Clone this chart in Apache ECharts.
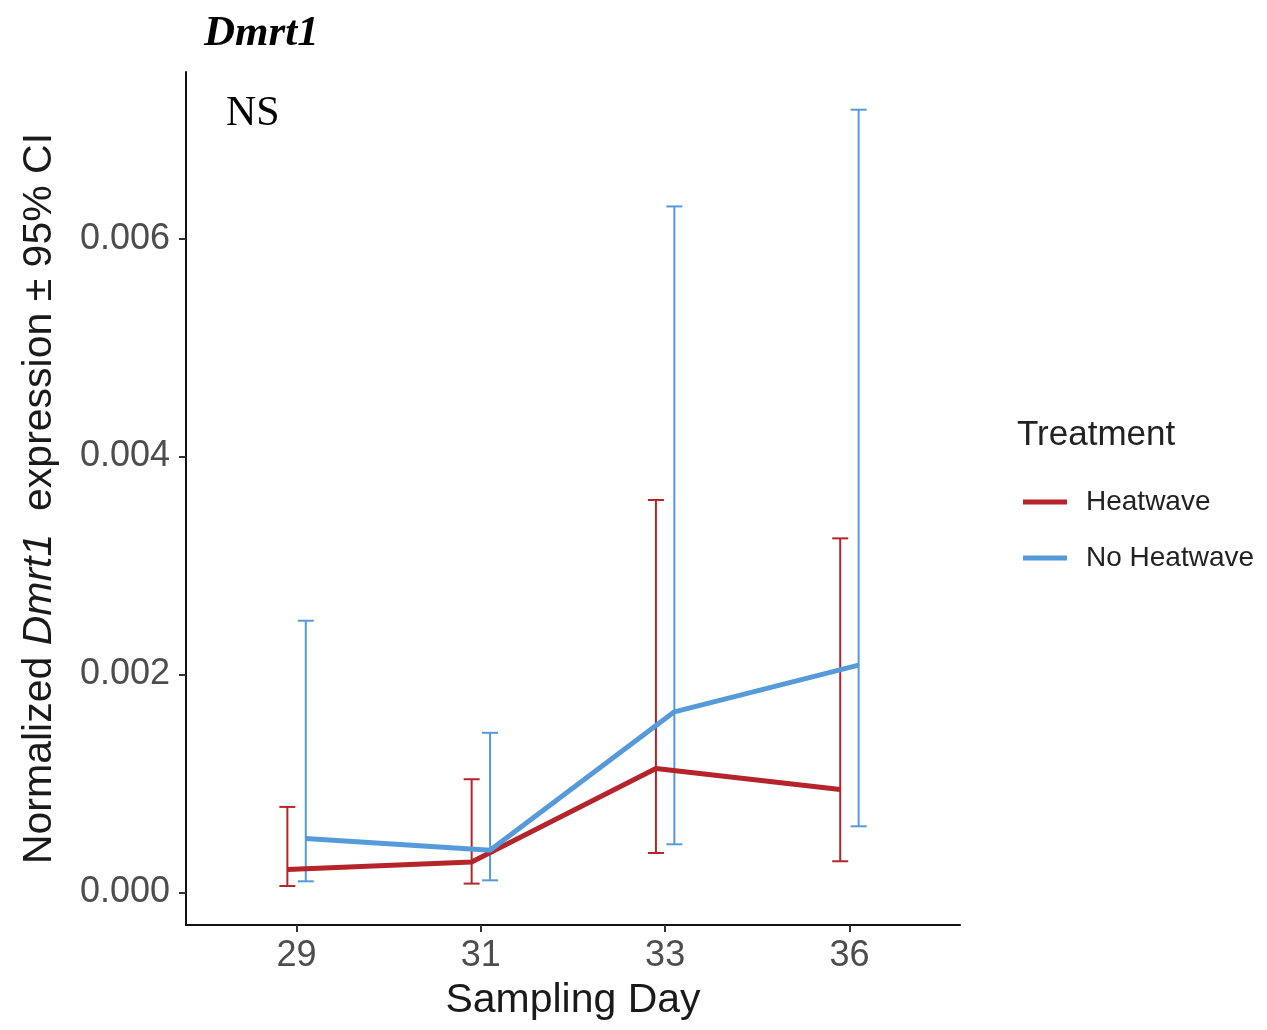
<!DOCTYPE html>
<html>
<head>
<meta charset="utf-8">
<script src="https://cdn.jsdelivr.net/npm/echarts@6/dist/echarts.min.js"></script>
<style>
html,body{margin:0;padding:0;background:#fff;}
#chart{width:1267px;height:1030px;}
</style>
</head>
<body>
<div id="chart"></div>
<script>
// ---- data ----
var days = ['29', '31', '33', '36'];
var yTicks = [0, 0.002, 0.004, 0.006];
var heatMean = [0.000209, 0.000279, 0.001136, 0.000943];
var heatLow  = [0.000058, 0.000080, 0.000361, 0.000285];
var heatHigh = [0.000784, 0.001038, 0.003601, 0.003249];
var noMean = [0.000493, 0.000386, 0.001657, 0.002085];
var noLow  = [0.000101, 0.000110, 0.000441, 0.000606];
var noHigh = [0.002493, 0.001464, 0.006296, 0.007184];
var dodge = 0.05;
var RED = '#B5242B';
var BLUE = '#559AD9';

function pts(means, off) {
  return means.map(function (v, i) { return [i + off, v]; });
}
function bars(lows, highs, off) {
  return lows.map(function (v, i) { return [i + off, v, highs[i]]; });
}
function errRender(color) {
  return function (params, api) {
    var x = api.value(0);
    var lo = api.coord([x, api.value(1)]);
    var hi = api.coord([x, api.value(2)]);
    var hw = 8;
    var style = { stroke: color, lineWidth: 2, fill: null };
    return {
      type: 'group',
      children: [
        { type: 'line', shape: { x1: lo[0], y1: lo[1], x2: hi[0], y2: hi[1] }, style: style },
        { type: 'line', shape: { x1: lo[0] - hw, y1: lo[1], x2: lo[0] + hw, y2: lo[1] }, style: style },
        { type: 'line', shape: { x1: hi[0] - hw, y1: hi[1], x2: hi[0] + hw, y2: hi[1] }, style: style }
      ]
    };
  };
}

var chart = echarts.init(document.getElementById('chart'));
var sans = 'Liberation Sans, Arial, sans-serif';
var serif = 'Liberation Serif, Times New Roman, serif';
chart.setOption({
  animation: false,
  backgroundColor: '#fff',
  grid: { left: 186, right: 307, top: 72, bottom: 105, containLabel: false },
  title: [
    { text: 'Dmrt1', left: 199, top: 7, textStyle: { fontFamily: serif, fontStyle: 'italic', fontWeight: 'bold', fontSize: 43, color: '#000' } },
    { text: 'NS', left: 221, top: 88, textStyle: { fontFamily: serif, fontWeight: 'normal', fontSize: 42, color: '#000' } },
    { text: 'Treatment', left: 1012, top: 413, textStyle: { fontFamily: sans, fontWeight: 'normal', fontSize: 35, color: '#222' } }
  ],
  legend: {
    data: ['Heatwave', 'No Heatwave'],
    orient: 'vertical',
    left: 1018,
    top: 483,
    icon: 'rect',
    itemWidth: 44,
    itemHeight: 5,
    itemGap: 28,
    textStyle: { fontFamily: sans, fontSize: 28, color: '#222', padding: [0, 0, 0, 14] }
  },
  xAxis: {
    type: 'value',
    min: -0.6,
    max: 3.6,
    name: 'Sampling Day',
    nameLocation: 'middle',
    nameGap: 55,
    nameTextStyle: { fontFamily: sans, fontSize: 41, color: '#1a1a1a' },
    splitLine: { show: false },
    axisLine: { show: true, onZero: false, lineStyle: { color: '#111', width: 2 } },
    axisTick: { show: true, customValues: [0, 1, 2, 3], length: 7, lineStyle: { color: '#333', width: 2 } },
    axisLabel: {
      customValues: [0, 1, 2, 3],
      margin: 13,
      fontFamily: sans, fontSize: 36, color: '#4d4d4d',
      formatter: function (v) { return days[Math.round(v)]; }
    }
  },
  yAxis: {
    type: 'value',
    min: -0.0003,
    max: 0.00753,
    name: '{n|Normalized }{i|Dmrt1}{n|  expression ± 95% CI}',
    nameLocation: 'middle',
    nameGap: 126,
    nameRotate: 90,
    nameTextStyle: {
      rich: {
        n: { fontFamily: sans, fontSize: 41, color: '#1a1a1a' },
        i: { fontFamily: sans, fontSize: 41, fontStyle: 'italic', color: '#1a1a1a' }
      }
    },
    splitLine: { show: false },
    axisLine: { show: true, onZero: false, lineStyle: { color: '#111', width: 2 } },
    axisTick: { show: true, customValues: yTicks, length: 7, lineStyle: { color: '#333', width: 2 } },
    axisLabel: {
      customValues: yTicks,
      margin: 16,
      fontFamily: sans, fontSize: 36, color: '#4d4d4d',
      formatter: function (v) { return v.toFixed(3); }
    }
  },
  series: [
    { name: 'Heatwave CI', type: 'custom', renderItem: errRender(RED), data: bars(heatLow, heatHigh, -dodge), z: 2 },
    { name: 'No Heatwave CI', type: 'custom', renderItem: errRender(BLUE), data: bars(noLow, noHigh, dodge), z: 2 },
    { name: 'Heatwave', type: 'line', data: pts(heatMean, -dodge), symbol: 'none', color: RED, lineStyle: { color: RED, width: 5 }, z: 3 },
    { name: 'No Heatwave', type: 'line', data: pts(noMean, dodge), symbol: 'none', color: BLUE, lineStyle: { color: BLUE, width: 5 }, z: 4 }
  ]
});
</script>
</body>
</html>
